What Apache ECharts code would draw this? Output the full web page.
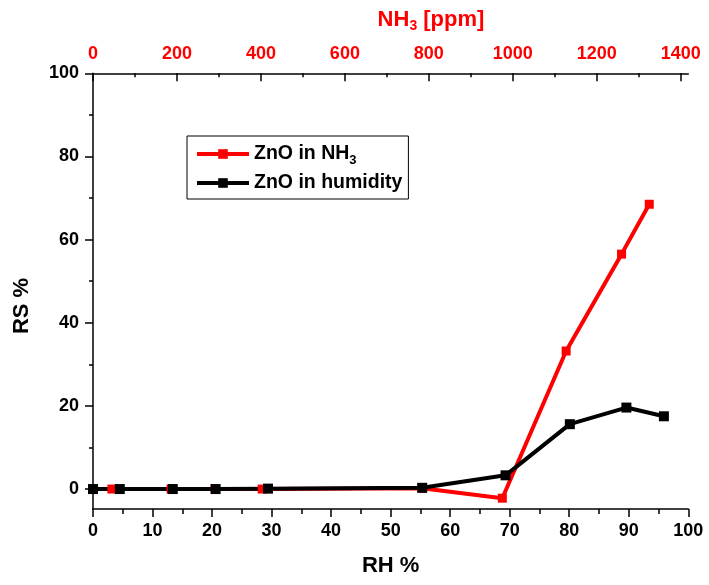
<!DOCTYPE html>
<html>
<head>
<meta charset="utf-8">
<script src="https://cdn.jsdelivr.net/npm/echarts@6/dist/echarts.min.js"></script>
<style>
  html, body { margin: 0; padding: 0; background: #fff; }
  #chart { width: 709px; height: 585px; }
</style>
</head>
<body>
<div id="chart"></div>
<script>
// ZnO response in humidity (bottom axis, RH %)
const rhValues   = [0, 4.5, 13.4, 20.6, 29.4, 55.3, 69.3, 80.1, 89.6, 95.9];
const humidityRS = [0, 0, 0, 0, 0.1, 0.3, 3.3, 15.6, 19.6, 17.5];

// ZnO response in NH3 (top axis, ppm)
const nh3Ppm = [45, 186, 291, 403, 784, 975, 1127, 1259, 1325];
const nh3RS  = [0, 0, 0, 0, 0.2, -2.2, 33.2, 56.5, 68.5];

// Tick values
const ppmMajorTicks = [0, 200, 400, 600, 800, 1000, 1200, 1400];
const ppmMinorTicks = [100, 300, 500, 700, 900, 1100, 1300];
const rsMajorTicks  = [0, 20, 40, 60, 80, 100];
const rsMinorTicks  = [10, 30, 50, 70, 90];

const FONT = '"Liberation Sans", Arial, sans-serif';
const AXIS_LINE = { color: '#000', width: 1.5 };

const chart = echarts.init(document.getElementById('chart'), null, { renderer: 'canvas' });

const legendNames = { 'ZnO in NH3': '{a|ZnO in NH}{s|3}', 'ZnO in humidity': '{a|ZnO in humidity}' };

chart.setOption({
  animation: false,
  backgroundColor: '#fff',
  grid: { left: 93, right: 20.7, top: 73.3, bottom: 76 },
  xAxis: [
    {
      type: 'value', position: 'bottom', min: 0, max: 100, interval: 10,
      axisLine: { onZero: false, lineStyle: AXIS_LINE },
      axisTick: { length: 8, lineStyle: AXIS_LINE },
      minorTick: { show: true, splitNumber: 2, length: 5, lineStyle: AXIS_LINE },
      splitLine: { show: false }, minorSplitLine: { show: false },
      axisLabel: { margin: 13, color: '#000', fontSize: 18, fontWeight: 'bold', fontFamily: FONT },
      name: 'RH %', nameLocation: 'middle', nameGap: 46,
      nameTextStyle: { color: '#000', fontSize: 22, fontWeight: 'bold', fontFamily: FONT }
    },
    {
      type: 'value', position: 'top', min: 0, max: 1418,
      axisLine: { onZero: false, lineStyle: AXIS_LINE },
      axisTick: { inside: true, length: 8, customValues: ppmMajorTicks, lineStyle: AXIS_LINE },
      splitLine: { show: false },
      axisLabel: {
        customValues: ppmMajorTicks, formatter: v => String(v), margin: 10,
        color: '#ff0000', fontSize: 18, fontWeight: 'bold', fontFamily: FONT
      }
    },
    {
      type: 'value', position: 'top', min: 0, max: 1418,
      axisLine: { show: false, onZero: false },
      axisTick: { inside: true, length: 4, customValues: ppmMinorTicks, lineStyle: AXIS_LINE },
      splitLine: { show: false },
      axisLabel: { show: false }
    }
  ],
  yAxis: [
    {
      type: 'value', position: 'left', min: -4.8, max: 100,
      axisLine: { show: true, onZero: false, lineStyle: AXIS_LINE },
      axisTick: { show: true, length: 8, customValues: rsMajorTicks, lineStyle: AXIS_LINE },
      splitLine: { show: false },
      axisLabel: { customValues: rsMajorTicks, margin: 14, color: '#000', fontSize: 18, fontWeight: 'bold', fontFamily: FONT }
    },
    {
      type: 'value', position: 'left', min: -4.8, max: 100,
      axisLine: { show: false, onZero: false },
      axisTick: { show: true, length: 4, customValues: rsMinorTicks, lineStyle: AXIS_LINE },
      splitLine: { show: false },
      axisLabel: { show: false }
    }
  ],
  legend: {
    orient: 'vertical', left: 187, top: 136,
    padding: [8, 6, 6, 8], itemGap: 6, itemWidth: 52, itemHeight: 12,
    borderColor: '#000', borderWidth: 1,
    data: ['ZnO in NH3', 'ZnO in humidity'],
    formatter: name => legendNames[name],
    lineStyle: { width: 4 },
    textStyle: {
      color: '#000', fontFamily: FONT,
      rich: {
        a: { fontSize: 19.5, fontWeight: 'bold', fontFamily: FONT, color: '#000' },
        s: { fontSize: 13, fontWeight: 'bold', fontFamily: FONT, color: '#000', padding: [13, 0, 0, 0] }
      }
    }
  },
  graphic: [
    {
      type: 'text', x: 431, y: 20,
      style: {
        text: '{a|NH}{s|3}{a| [ppm]}', align: 'center', verticalAlign: 'middle',
        rich: {
          a: { fontSize: 22, fontWeight: 'bold', fontFamily: FONT, fill: '#ff0000' },
          s: { fontSize: 14, fontWeight: 'bold', fontFamily: FONT, fill: '#ff0000', padding: [13, 0, 0, 0] }
        }
      }
    },
    {
      type: 'text', x: 22, y: 306, rotation: Math.PI / 2,
      style: {
        text: 'RS %', align: 'center', verticalAlign: 'middle',
        fontSize: 22, fontWeight: 'bold', fontFamily: FONT, fill: '#000'
      }
    }
  ],
  series: [
    {
      name: 'ZnO in NH3', type: 'line', xAxisIndex: 1, yAxisIndex: 0,
      data: nh3Ppm.map((x, i) => [x, nh3RS[i]]),
      symbol: 'rect', symbolSize: 9,
      lineStyle: { color: '#ff0000', width: 4 },
      itemStyle: { color: '#ff0000' }
    },
    {
      name: 'ZnO in humidity', type: 'line', xAxisIndex: 0, yAxisIndex: 0,
      data: rhValues.map((x, i) => [x, humidityRS[i]]),
      symbol: 'rect', symbolSize: 10,
      lineStyle: { color: '#000', width: 4 },
      itemStyle: { color: '#000' }
    }
  ]
});
</script>
</body>
</html>
